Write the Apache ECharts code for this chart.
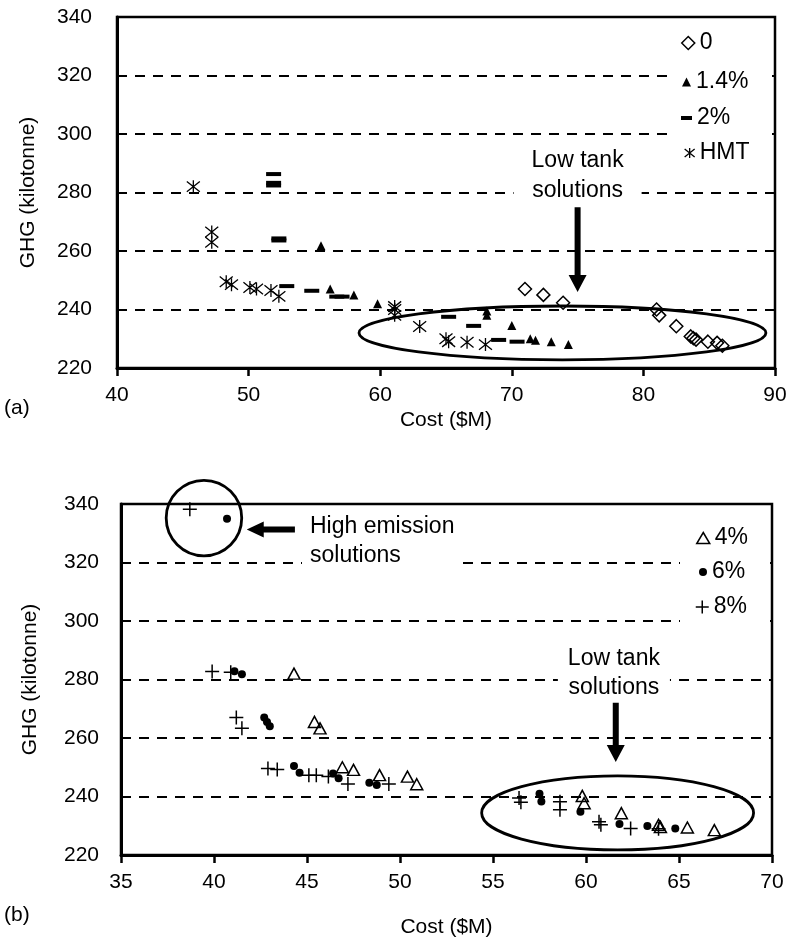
<!DOCTYPE html>
<html><head><meta charset="utf-8">
<script src="https://cdn.jsdelivr.net/npm/echarts/dist/echarts.min.js"></script>
<style>html,body{margin:0;padding:0;background:#fff}#c{width:793px;height:946px}</style>
</head><body><div id="c"></div>
<script>
// ---------- data: panel (a) ----------
const costTicksA = [40, 50, 60, 70, 80, 90];
const costTicksB = [35, 40, 45, 50, 55, 60, 65, 70];
const ghgTicks = [220, 240, 260, 280, 300, 320, 340];

const seriesNamesA = ['0', '1.4%', '2%', 'HMT'];
const seriesNamesB = ['4%', '6%', '8%'];

const a0 = [[71.0,247],[72.4,245],[73.9,242.3],[81.0,240],[81.2,238],[82.5,234.3],[83.6,230.8],[83.8,230.2],[84.0,229.7],[84.9,229],[85.6,228.6],[86.0,227.6]];
const a14 = [[55.5,261.8],[56.2,247],[58.0,245],[59.8,242],[68.1,239.5],[68.1,238],[70.0,234.5],[71.4,230],[71.8,229.5],[73.0,229],[74.3,228]];
const a2 = [[51.9,286.3],[51.9,283.3],[51.9,282.4],[52.3,264.3],[52.3,263.6],[52.9,248],[54.8,246.4],[56.7,244.4],[57.1,244.4],[65.2,237.5],[67.1,234.4],[69.0,229.6],[70.4,229]];
const aHMT = [[45.8,282],[47.2,266.5],[47.2,263],[48.3,249.5],[48.7,248.5],[50.1,247.5],[50.6,247],[51.7,246.5],[52.3,244.5],[61.1,241],[61.1,240],[61.1,238],[63.0,234.2],[65.0,230],[65.2,229],[66.6,228.8],[68.0,228]];

// ---------- data: panel (b) ----------
const b4 = [[44.3,282],[45.4,265.5],[45.7,263.3],[46.9,250],[47.5,249.1],[48.9,247.3],[50.4,246.8],[50.9,244.2],[59.8,240.2],[59.9,237.7],[61.9,234.3],[63.9,230.3],[64.0,229.6],[65.45,229.4],[66.9,228.5]];
const b6 = [[40.7,335],[41.1,282.8],[41.5,281.8],[42.7,267],[42.85,265.5],[43.0,264],[44.3,250.4],[44.6,248.1],[46.4,247.9],[46.7,246.2],[48.35,244.7],[48.75,243.9],[57.5,240.9],[57.6,238.3],[59.7,234.8],[61.8,230.6],[63.3,229.9],[64.8,229.1]];
const b8 = [[38.7,338.2],[39.9,282.7],[40.9,282.5],[41.2,267],[41.5,263.3],[42.9,249.6],[43.4,249.2],[45.1,247.3],[45.5,247.3],[46.15,246.8],[47.2,244.3],[49.4,244.3],[56.4,239.5],[56.5,238],[58.6,238.2],[58.6,235.5],[60.7,231.4],[60.8,230.3],[62.4,229.1],[63.9,229]];

// ---------- styling ----------
const FONT = '"Liberation Sans", Arial, sans-serif';
const BLACK = '#000';
const SYM_ASTER = 'path://M0,1L10,9M10,1L0,9M5,0L5,10';
const SYM_PLUS = 'path://M0,5L10,5M5,0L5,10';
const hollow = w => ({color: 'rgba(0,0,0,0)', borderColor: BLACK, borderWidth: w, opacity: 1});
const solid = {color: BLACK, borderWidth: 0, opacity: 1};

const chart = echarts.init(document.getElementById('c'));

function xAxisCfg(ticks, gridIndex, nameGap) {
  return {
    type: 'value', gridIndex,
    min: ticks[0], max: ticks[ticks.length - 1], interval: ticks[1] - ticks[0],
    name: 'Cost ($M)', nameLocation: 'middle', nameGap,
    nameTextStyle: {fontSize: 21, color: BLACK, fontFamily: FONT},
    axisLine: {show: true, onZero: false, lineStyle: {color: BLACK, width: 3}},
    axisTick: {show: true, length: 8, lineStyle: {color: BLACK, width: 2.5}},
    axisLabel: {fontSize: 21, color: BLACK, fontFamily: FONT, margin: 17},
    splitLine: {show: false}
  };
}
function yAxisCfg(gridIndex, margin, nameGap) {
  return {
    type: 'value', gridIndex,
    min: ghgTicks[0], max: ghgTicks[ghgTicks.length - 1], interval: ghgTicks[1] - ghgTicks[0],
    name: 'GHG (kilotonne)', nameLocation: 'middle', nameGap,
    nameTextStyle: {fontSize: 21, color: BLACK, fontFamily: FONT},
    axisLine: {show: true, onZero: false, lineStyle: {color: BLACK, width: 3}},
    axisTick: {show: false},
    axisLabel: {fontSize: 21, color: BLACK, fontFamily: FONT, margin},
    splitLine: {show: true, lineStyle: {color: BLACK, width: 2, type: [10, 8]}}
  };
}
function sc(name, data, gi, symbol, size, style) {
  return {
    type: 'scatter', name, data, xAxisIndex: gi, yAxisIndex: gi,
    symbol, symbolSize: size, itemStyle: style, silent: true,
    emphasis: {disabled: true}, z: 3
  };
}
function lg(name, icon, w, h, style, left, cy) {
  return {
    data: [{name, icon, itemStyle: style}],
    left, top: cy - 12, orient: 'vertical', padding: 0,
    itemWidth: w, itemHeight: h, selectedMode: false, z: 6,
    textStyle: {fontSize: 23, lineHeight: 24, color: BLACK, fontFamily: FONT}
  };
}

chart.setOption({
  animation: false,
  backgroundColor: '#fff',
  grid: [
    {left: 117, top: 17, width: 658, height: 351, show: true, borderColor: BLACK, borderWidth: 2.5, backgroundColor: 'transparent'},
    {left: 121, top: 504, width: 651, height: 351, show: true, borderColor: BLACK, borderWidth: 2.5, backgroundColor: 'transparent'}
  ],
  xAxis: [xAxisCfg(costTicksA, 0, 42), xAxisCfg(costTicksB, 1, 62)],
  yAxis: [yAxisCfg(0, 25, 78), yAxisCfg(1, 22, 80)],
  legend: [
    lg(seriesNamesA[0], 'diamond', 13, 13, hollow(1.5), 681, 43),
    lg(seriesNamesA[1], 'triangle', 9, 9, solid, 682, 82),
    lg(seriesNamesA[2], 'rect', 11, 4, solid, 681, 118),
    lg(seriesNamesA[3], SYM_ASTER, 10, 10, hollow(1.3), 684, 153),
    lg(seriesNamesB[0], 'triangle', 13, 11, hollow(1.5), 696, 538),
    lg(seriesNamesB[1], 'circle', 8, 8, solid, 699, 572),
    lg(seriesNamesB[2], SYM_PLUS, 13, 14, hollow(1.5), 695, 607)
  ],
  series: [
    sc(seriesNamesA[0], a0, 0, 'diamond', [13, 13], hollow(1.5)),
    sc(seriesNamesA[1], a14, 0, 'triangle', [9, 9], solid),
    sc(seriesNamesA[2], a2, 0, 'rect', [15, 4], solid),
    sc(seriesNamesA[3], aHMT, 0, SYM_ASTER, [13, 13], hollow(1.3)),
    sc(seriesNamesB[0], b4, 1, 'triangle', [12, 11], hollow(1.5)),
    sc(seriesNamesB[1], b6, 1, 'circle', 8, solid),
    sc(seriesNamesB[2], b8, 1, SYM_PLUS, [14, 14], hollow(1.5))
  ]
});

// ---------- annotations (anchored in data coordinates) ----------
const annoA = {ell: {cx: 73.85, cy: 232, rx: 15.46, ry: 9.2}, tail: [75, 275], tip: [75, 246], text: [75, 285.6]};
const annoB = {ell: {cx: 61.7, cy: 234.4, rx: 7.31, ry: 12.65}, tail: [61.6, 273], tip: [61.6, 251.8], text: [61.5, 282],
               circ: {cx: 39.46, cy: 335.2, r: 2.03}, hTail: [44.35, 331.3], hTip: [41.76, 331.3], hText: [44.73, 327.4]};

function P(gi, p) { return chart.convertToPixel({gridIndex: gi}, p); }
function arrow(tail, tip, sh, hh, hl) {
  const dx = tip[0] - tail[0], dy = tip[1] - tail[1];
  const L = Math.hypot(dx, dy), ux = dx / L, uy = dy / L, nx = -uy, ny = ux;
  const bx = tip[0] - ux * hl, by = tip[1] - uy * hl;
  return {type: 'polygon', z: 7, silent: true,
    shape: {points: [
      [tail[0] + nx * sh, tail[1] + ny * sh], [bx + nx * sh, by + ny * sh], [bx + nx * hh, by + ny * hh],
      tip, [bx - nx * hh, by - ny * hh], [bx - nx * sh, by - ny * sh], [tail[0] - nx * sh, tail[1] - ny * sh]]},
    style: {fill: BLACK}};
}
function ellipse(gi, e) {
  const c = P(gi, [e.cx, e.cy]);
  const rx = P(gi, [e.cx + e.rx, e.cy])[0] - c[0];
  const ry = c[1] - P(gi, [e.cx, e.cy + e.ry])[1];
  return {type: 'ellipse', z: 7, silent: true, shape: {cx: c[0], cy: c[1], rx, ry},
    style: {fill: 'none', stroke: BLACK, lineWidth: 2.8}};
}
function label(p, text, align, pad, lh) {
  return {type: 'text', z: 7, silent: true, x: p[0], y: p[1],
    style: {text, font: '23px ' + FONT, fill: BLACK, align, verticalAlign: 'middle',
      lineHeight: lh, backgroundColor: '#fff', padding: pad}};
}
const cB = P(1, [annoB.circ.cx, annoB.circ.cy]);
const rB = P(1, [annoB.circ.cx + annoB.circ.r, annoB.circ.cy])[0] - cB[0];

chart.setOption({graphic: [
  {type: 'rect', z: 1, silent: true, shape: {x: 668, y: 22, width: 104, height: 148}, style: {fill: '#fff'}},
  {type: 'rect', z: 1, silent: true, shape: {x: 680, y: 518, width: 90, height: 108}, style: {fill: '#fff'}},
  ellipse(0, annoA.ell),
  arrow(P(0, annoA.tail), P(0, annoA.tip), 3, 9, 17),
  label(P(0, annoA.text), 'Low tank\nsolutions', 'center', [0, 18], 30),
  ellipse(1, annoB.ell),
  arrow(P(1, annoB.tail), P(1, annoB.tip), 3, 9, 17),
  label(P(1, annoB.text), 'Low tank\nsolutions', 'center', [0, 10], 29),
  {type: 'circle', z: 7, silent: true, shape: {cx: cB[0], cy: cB[1], r: rB}, style: {fill: 'none', stroke: BLACK, lineWidth: 2.8}},
  arrow(P(1, annoB.hTail), P(1, annoB.hTip), 3, 8, 17),
  label(P(1, annoB.hText), 'High emission\nsolutions', 'left', [0, 8], 29),
  {type: 'text', z: 7, silent: true, x: 4, y: 408, style: {text: '(a)', font: '21px ' + FONT, fill: BLACK, verticalAlign: 'middle'}},
  {type: 'text', z: 7, silent: true, x: 4, y: 915, style: {text: '(b)', font: '21px ' + FONT, fill: BLACK, verticalAlign: 'middle'}}
]});
</script>
</body></html>
